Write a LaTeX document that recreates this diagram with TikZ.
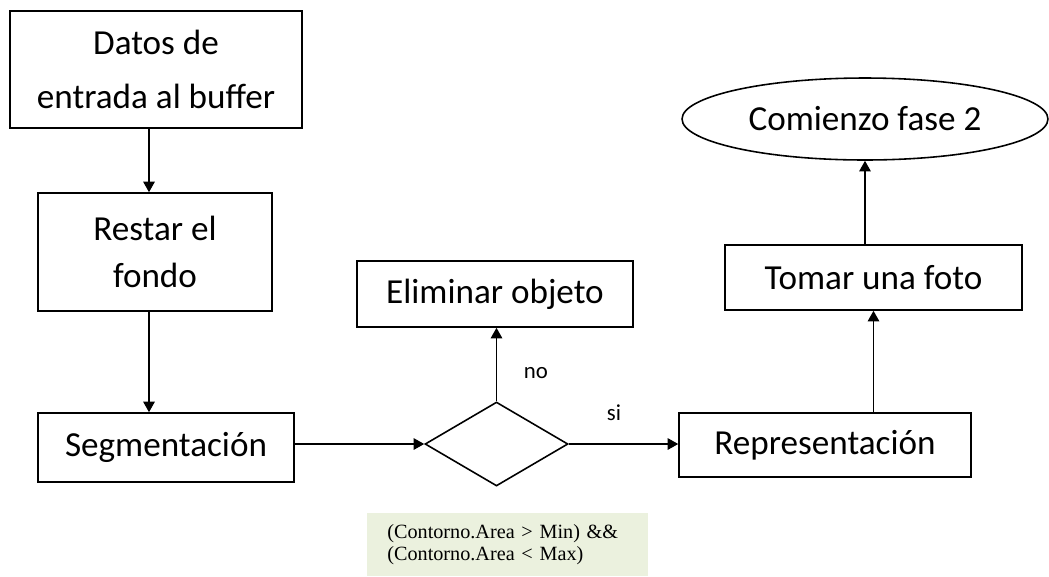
\documentclass[tikz,border=0pt]{standalone}
\usepackage{fontspec}
\setmainfont{Carlito}
\newfontfamily\condfont{Liberation Serif}
\usetikzlibrary{shapes.geometric,arrows.meta}
\definecolor{condgreen}{RGB}{235,241,222}

\begin{document}
\begin{tikzpicture}[
    x=0.02cm, y=-0.02cm,
    box/.style={rectangle, draw, line width=0.9pt, inner sep=0pt, align=center, font=\fontsize{20}{27}\selectfont},
    decision/.style={diamond, draw, line width=0.9pt, inner sep=0pt, minimum width=2.86cm, minimum height=1.68cm},
    terminal/.style={ellipse, draw, line width=0.9pt, inner sep=0pt, minimum width=7.32cm, minimum height=1.64cm, font=\fontsize{20}{24}\selectfont},
    flow/.style={-{Triangle[length=6pt,width=6.5pt]}, line width=0.9pt},
    lbl/.style={font=\fontsize{13}{15}\selectfont},
    cond/.style={fill=condgreen, inner xsep=0.4cm, text width=4.82cm, minimum height=1.26cm, align=left, font=\condfont\fontsize{11.5}{12.5}\selectfont}
]
    \useasboundingbox (0,0) rectangle (1049,576);

    \node[box, minimum width=5.84cm, minimum height=2.34cm] (datos) at (156,69.5) {Datos de\\[4pt]entrada al buffer};
    \node[box, minimum width=4.68cm, minimum height=2.36cm] (restar) at (155,252) {Restar el\\fondo};
    \node[box, minimum width=5.12cm, minimum height=1.38cm] (seg) at (166,447.5) {Segmentación};
    \node[decision] (dec) at (496.5,444) {};
    \node[box, minimum width=5.52cm, minimum height=1.32cm] (elim) at (495,294) {Eliminar objeto};
    \node[box, minimum width=5.84cm, minimum height=1.28cm] (rep) at (825,445) {Representación};
    \node[box, minimum width=5.94cm, minimum height=1.30cm] (foto) at (873.5,277.5) {Tomar una foto};
    \node[terminal] (fase) at (865,119) {Comienzo fase 2};

    \node[lbl] (no) at (536,373) {no};
    \node[lbl] (si) at (614,413) {si};
    \node[cond, anchor=north west] (area) at (367,513) {(Contorno.Area > Min) \&\&\\(Contorno.Area < Max)};

    \draw[flow] ([xshift=-0.14cm]datos.south) -- ([xshift=-0.12cm]restar.north);
    \draw[flow] ([xshift=-0.12cm]restar.south) -- ([xshift=-0.34cm]seg.north);
    \draw[flow] (seg.east |- dec) -- (dec.west);
    \draw[flow] (dec.north) -- (dec.north |- elim.south);
    \draw[flow] (dec.east) -- (rep.west |- dec);
    \draw[flow] (foto.south |- rep.north) -- (foto.south);
    \draw[flow] (fase.south |- foto.north) -- (fase.south);
\end{tikzpicture}
\end{document}
